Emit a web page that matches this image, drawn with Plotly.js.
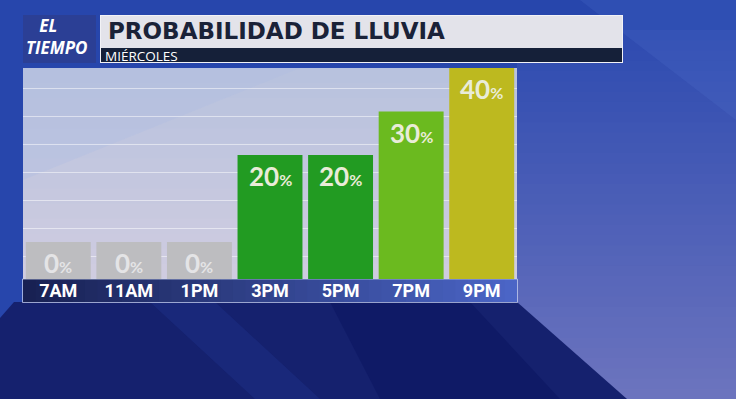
<!DOCTYPE html>
<html>
<head>
<meta charset="utf-8">
<script src="https://cdn.plot.ly/plotly-3.0.1.min.js"></script>
<style>
html,body{margin:0;padding:0;background:#2746ac;}
#chart{width:736px;height:399px;}
</style>
</head>
<body>
<div id="chart"></div>
<script>
// ---- data ----
const categories = ['7AM', '11AM', '1PM', '3PM', '5PM', '7PM', '9PM'];
const values = [0, 0, 0, 20, 20, 30, 40];
const barColors = ['#bdbdc0', '#bdbdc0', '#bdbdc0', '#229b22', '#229b22', '#6bba1f', '#bdb91f'];
const titleText = 'PROBABILIDAD DE LLUVIA';
const subtitleText = 'MIÉRCOLES';
const logoText = '&nbsp;&nbsp;&nbsp;EL<br>TIEMPO';

// ---- layout helpers (pixel -> paper) ----
const W = 736, H = 399;
const L = 23, R = 517, T = 68, B = 279;
const FLOOR = 8.5; // visual stub under every bar
const px = x => (x - L) / (R - L);
const py = y => (B - y) / (B - T);
function rect(x0, y0, x1, y1, fill, extra) {
  return Object.assign({type: 'rect', xref: 'paper', yref: 'paper', layer: 'below',
    x0: px(x0), x1: px(x1), y0: py(y1), y1: py(y0), fillcolor: fill, line: {width: 0}}, extra || {});
}
function poly(pts, fill, layer) {
  const d = pts.map((p, i) => (i ? 'L' : 'M') + px(p[0]).toFixed(5) + ',' + py(p[1]).toFixed(5)).join(' ') + ' Z';
  return {type: 'path', xref: 'paper', yref: 'paper', layer: layer || 'below', path: d,
    fillcolor: fill, line: {width: 0}};
}
function mix(a, b, t) {
  const pa = [1, 3, 5].map(i => parseInt(a.substr(i, 2), 16));
  const pb = [1, 3, 5].map(i => parseInt(b.substr(i, 2), 16));
  return 'rgb(' + pa.map((v, i) => Math.round(v + (pb[i] - v) * t)).join(',') + ')';
}

const shapes = [];
// background
shapes.push(rect(0, 0, W, H, '#2746ac'));
// right side gradient (lighter toward bottom)
const NB = 36;
for (let i = 0; i < NB; i++) {
  const y0 = 30 + i * (H - 30) / NB;
  shapes.push(rect(517, y0, W, y0 + (H - 30) / NB + 1.5, mix('#2e4bb0', '#6c74be', i / (NB - 1))));
}
shapes.push(poly([[580, 0], [736, 0], [736, 120]], 'rgba(90,120,210,0.18)'));
// bottom dark area
shapes.push(poly([[0, 318], [14, 302], [517, 302], [627, H], [0, H]], '#15216e'));
shapes.push(poly([[150, 302], [215, 302], [320, H], [255, H]], 'rgba(40,70,170,0.22)'));
shapes.push(poly([[330, 302], [470, 302], [560, H], [380, H]], 'rgba(5,15,90,0.35)'));

// panel gradient
const NP = 14;
for (let i = 0; i < NP; i++) {
  const y0 = T + i * (B - T) / NP;
  shapes.push(rect(L, y0, R, Math.min(B, y0 + (B - T) / NP + 1.5), mix('#b8c2de', '#cfcce0', i / (NP - 1))));
}
shapes.push(poly([[23, 68], [300, 68], [23, 180]], 'rgba(175,190,225,0.35)'));

// label strip gradient
const N = 40;
for (let i = 0; i < N; i++) {
  const x0 = L + (R - L) * i / N;
  shapes.push(rect(x0, 279, Math.min(R, x0 + (R - L) / N + 1), 302, mix('#182153', '#4b65c6', i / (N - 1))));
}
// strip border
shapes.push({type: 'rect', xref: 'paper', yref: 'paper', layer: 'below', x0: px(22.5), x1: px(517.5), y0: py(302.5), y1: py(279),
   line: {color: 'rgba(200,210,240,0.75)', width: 1}, fillcolor: 'rgba(0,0,0,0)'});

// header
const header = [
  rect(23, 15, 96, 63, '#2b3f95', {layer: 'above'}),
  rect(100, 15, 623, 63, '#f2f2f6', {layer: 'above'}),
  rect(101, 16, 622, 48, '#e3e3ea', {layer: 'above'}),
  rect(101, 48, 622, 62, '#152039', {layer: 'above'})
];

const annotations = [];
// bar value labels
values.forEach((v, i) => {
  annotations.push({
    x: categories[i], y: v, xref: 'x', yref: 'y', yanchor: 'middle', yshift: -21,
    showarrow: false,
    text: v + '<span style="font-size:16px">%</span>',
    font: {family: 'Lato, Open Sans, sans-serif', size: 26, weight: 700,
           color: v === 0 ? '#e4e4e6' : '#e9ecd8'}
  });
});
// header text
annotations.push({xref: 'paper', yref: 'paper', x: px(24), y: py(37), xanchor: 'left', yanchor: 'middle',
  showarrow: false, text: logoText, align: 'left',
  font: {family: 'Open Sans, sans-serif', size: 17, weight: 700, style: 'italic', color: '#ffffff'}});
annotations.push({xref: 'paper', yref: 'paper', x: px(106), y: py(31.5), xanchor: 'left', yanchor: 'middle',
  showarrow: false, text: titleText,
  font: {family: 'DejaVu Sans, sans-serif', size: 23, weight: 700, color: '#1a2238'}});
annotations.push({xref: 'paper', yref: 'paper', x: px(103), y: py(56), xanchor: 'left', yanchor: 'middle',
  showarrow: false, text: subtitleText,
  font: {family: 'Open Sans, sans-serif', size: 13.5, weight: 400, color: '#ffffff'}});

const trace = {
  type: 'bar',
  x: categories,
  y: values.map(v => v + FLOOR),
  base: -FLOOR,
  marker: {color: barColors, line: {width: 0}},
  hoverinfo: 'skip'
};

const layout = {
  width: W, height: H,
  margin: {l: L, r: W - R, t: T, b: H - B, pad: 0},
  paper_bgcolor: '#2746ac',
  plot_bgcolor: 'rgba(0,0,0,0)',
  bargap: 0.08,
  showlegend: false,
  xaxis: {
    type: 'category', showgrid: false, zeroline: false, showline: false,
    ticks: '', ticklabelstandoff: -1,
    tickfont: {family: 'Liberation Sans Narrow, Roboto, sans-serif', size: 18, weight: 700, color: '#ffffff'},
    fixedrange: true
  },
  yaxis: {
    range: [-FLOOR, 40], showticklabels: false, zeroline: false, showline: false,
    showgrid: true, gridcolor: 'rgba(255,255,255,0.5)', gridwidth: 1,
    tick0: -3.44, dtick: 6.45, ticks: '', fixedrange: true
  },
  shapes: shapes.concat(header),
  annotations: annotations
};

Plotly.newPlot('chart', [trace], layout, {displayModeBar: false, staticPlot: true});
</script>
</body>
</html>
